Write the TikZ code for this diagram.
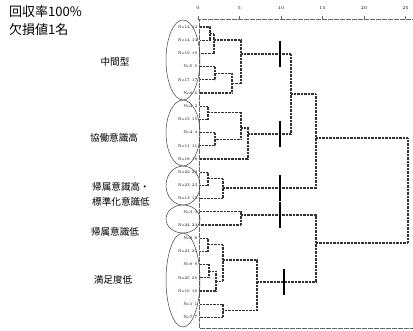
\documentclass[tikz,border=0pt]{standalone}
\usepackage{fontspec}
\newfontfamily\jp{Noto Sans CJK JP}
\begin{document}
\begin{tikzpicture}[x=1pt,y=-1pt,
  dend/.style={line width=1.1pt, black!80, dash pattern=on 0.9pt off 0.5pt},
  cutmark/.style={line width=1.6pt, black},
  framel/.style={line width=0.8pt, black!60, dash pattern=on 0.6pt off 0.6pt},
  leaf/.style={font=\fontsize{4}{4}\selectfont, anchor=east, inner sep=0.5pt},
  grp/.style={font=\jp\fontsize{9.6}{15}\selectfont, inner sep=0pt},
  head/.style={font=\jp\fontsize{13}{15}\selectfont, anchor=west, inner sep=0pt},
  tickl/.style={font=\fontsize{4.5}{5}\selectfont, inner sep=0pt},
  oval/.style={draw, black!75, line width=0.5pt}]
\useasboundingbox (0,0) rectangle (413,331);
% header
\node[head] (h1) at (9,12) {回収率100\%};
\node[head] (h2) at (9,30) {欠損値1名};
% axis
\draw[framel] (198,19) -- (413,19);
\draw[framel] (199,19) -- (199,328) -- (413,328);
\foreach \d/\lab in {0/0,5/5,10/10,15/15,20/20,25/25}{
  \node[tickl] (t\d) at ({198+8.3*\d},8) {\lab};
  \draw[black!60,line width=0.4pt] ({198+8.3*\d},16) -- ({198+8.3*\d},19);
}
% leaves
\foreach \i/\lab in {1/No12 12,2/No14 14,3/No19 19,4/No5 5,5/No17 17,6/No6 6,7/No2 2,8/No15 15,9/No4 4,10/No11 11,11/No18 18,12/No22 22,13/No23 23,14/No13 13,15/No3 3,16/No24 24,17/No8 8,18/No21 21,19/No9 9,20/No25 25,21/No16 16,22/No1 1,23/No7 7}{
  \node[leaf] (l\i) at (198,{27+13.2*(\i-1)}) {\lab};
}
% group 1
\draw[dend] (200,27) -| (210,40.2) -- (200,40.2);
\draw[dend] (210,33.6) -| (214,53.4) -- (200,53.4);
\draw[dend] (200,66.6) -| (215,79.8) -- (200,79.8);
\draw[dend] (215,73.2) -| (232,93) -- (200,93);
\draw[dend] (214,40) -| (241,83.1) -- (232,83.1);
\draw[dend] (241,54) -- (291,54);
% group 2
\draw[dend] (200,106.2) -| (208,119.4) -- (200,119.4);
\draw[dend] (200,132.6) -| (215,145.8) -- (200,145.8);
\draw[dend] (208,112.8) -| (241,139.2) -- (215,139.2);
\draw[dend] (241,128) -| (248,159) -- (200,159);
\draw[dend] (248,134) -- (291,134);
\draw[dend] (291,54) -- (291,134);
% groups 1+2 -> 3
\draw[dend] (291,94) -| (316,188) -- (223,188);
% group 3
\draw[dend] (200,172.2) -| (208,185.4) -- (200,185.4);
\draw[dend] (208,178.8) -| (223,198.6) -- (200,198.6);
% group 4
\draw[dend] (200,211.8) -| (241,225) -- (200,225);
\draw[dend] (241,215) -| (316,282) -- (257,282);
% group 5
\draw[dend] (200,238.2) -| (208,251.4) -- (200,251.4);
\draw[dend] (200,264.6) -| (209,277.8) -- (200,277.8);
\draw[dend] (209,271.2) -| (216,291) -- (200,291);
\draw[dend] (208,244.8) -| (223,281.1) -- (216,281.1);
\draw[dend] (200,304.2) -| (223,317.4) -- (200,317.4);
\draw[dend] (223,260) -| (257,310.8) -- (223,310.8);
% top join
\draw[dend] (316,138) -| (408,243) -- (316,243);
% cut marks
\foreach \y in {54,134,188,215}{\draw[cutmark] (280,\y-13) -- (280,\y+13);}
\draw[cutmark] (284,269) -- (284,295);
% ovals
\draw[oval] (183,60) ellipse (17 and 40);
\draw[oval] (183,133) ellipse (17 and 33);
\draw[oval] (183,185.5) ellipse (17 and 19.5);
\draw[oval] (183,219) ellipse (17 and 14);
\draw[oval] (183,280) ellipse (17 and 47);
% group labels
\node[grp] (g1) at (115,62) {中間型};
\node[grp] (g2) at (114,138) {協働意識高};
\node[grp, anchor=west, align=left] (g3) at (92,194.5) {帰属意識高・\\標準化意識低};
\node[grp] (g4) at (115,232) {帰属意識低};
\node[grp] (g5) at (113,280) {満足度低};
\end{tikzpicture}
\end{document}
